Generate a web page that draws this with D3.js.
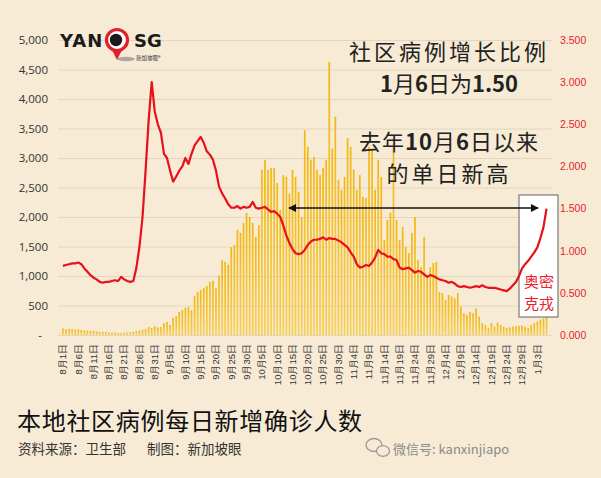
<!DOCTYPE html>
<html>
<head>
<meta charset="utf-8">
<script src="https://cdn.jsdelivr.net/npm/d3@7"></script>
<style>
  body { margin: 0; background: #f7ebd5; }
  svg { display: block; font-family: "Noto Sans CJK SC", "Noto Sans", sans-serif; }
</style>
</head>
<body>
<svg id="chart" width="601" height="478"></svg>
<script>
// daily local community cases, 1 Aug 2021 .. 6 Jan 2022
const startDate = new Date(2021, 7, 1);
const cases = [
  110, 95, 105, 100, 90, 95, 85, 80, 75, 70,
  72, 60, 55, 50, 52, 45, 40, 42, 35, 30,
  38, 40, 50, 55, 65, 80, 90, 100, 135, 120,
  150, 130, 135, 200, 220, 170, 290, 320, 390, 420,
  460, 475, 420, 660, 730, 760, 800, 830, 900, 920,
  790, 1010, 1270, 1240, 1190, 1490, 1525, 1780, 1730, 1900,
  2070, 2000, 1900, 1660, 1860, 2800, 2970, 2800, 2830, 2830,
  2575, 2120, 2710, 2680, 2400, 2800, 2680, 2430, 2000, 3470,
  3190, 2970, 3020, 2800, 2710, 2830, 2970, 4630, 3160, 3700,
  2630, 2460, 2680, 3340, 3190, 2800, 2460, 2710, 2340, 2320,
  3190, 3160, 2460, 2970, 2680, 1610, 1950, 2070, 3250, 1950,
  1610, 1830, 1490, 1390, 1730, 2000, 1270, 1150, 1660, 980,
  1150, 1220, 1240, 730, 710, 590, 680, 650, 620, 710,
  480, 370, 340, 390, 370, 450, 310, 200, 170, 120,
  200, 140, 210, 170, 140, 120, 130, 140, 150, 155,
  160, 140, 120, 170, 200, 230, 260, 280, 370
];
// community case growth ratio
const ratio = [
  0.82, 0.83, 0.84, 0.85, 0.85, 0.86, 0.84, 0.79, 0.75, 0.71,
  0.68, 0.66, 0.63, 0.62, 0.63, 0.63, 0.64, 0.65, 0.64, 0.69,
  0.66, 0.64, 0.63, 0.64, 0.80, 1.05, 1.40, 1.95, 2.55, 3.00,
  2.65, 2.50, 2.40, 2.15, 2.10, 1.95, 1.82, 1.88, 1.95, 2.00,
  2.10, 2.03, 2.15, 2.25, 2.30, 2.35, 2.28, 2.18, 2.14, 2.08,
  1.95, 1.76, 1.68, 1.62, 1.55, 1.51, 1.51, 1.53, 1.50, 1.52,
  1.51, 1.52, 1.58, 1.51, 1.50, 1.51, 1.52, 1.49, 1.46, 1.47,
  1.44, 1.40, 1.30, 1.18, 1.09, 1.02, 0.97, 0.96, 0.97, 1.01,
  1.07, 1.11, 1.13, 1.13, 1.14, 1.16, 1.13, 1.15, 1.14, 1.14,
  1.12, 1.10, 1.07, 1.04, 0.98, 0.93, 0.84, 0.80, 0.81, 0.83,
  0.82, 0.86, 0.92, 1.01, 0.97, 0.96, 0.93, 0.93, 0.90, 0.89,
  0.80, 0.78, 0.79, 0.80, 0.77, 0.74, 0.76, 0.75, 0.72, 0.69,
  0.71, 0.70, 0.68, 0.66, 0.65, 0.64, 0.62, 0.63, 0.61, 0.58,
  0.57, 0.58, 0.57, 0.56, 0.57, 0.58, 0.57, 0.59, 0.57, 0.56,
  0.56, 0.56, 0.55, 0.54, 0.53, 0.52, 0.55, 0.59, 0.63, 0.70,
  0.79, 0.84, 0.88, 0.93, 0.98, 1.04, 1.15, 1.28, 1.50
];
const leftTicks = [0, 500, 1000, 1500, 2000, 2500, 3000, 3500, 4000, 4500, 5000];
const rightTicks = [0, 0.5, 1, 1.5, 2, 2.5, 3, 3.5];
const labelEvery = 5;

const days = d3.timeDay.range(startDate, d3.timeDay.offset(startDate, cases.length));
const fmtDay = d => `${d.getMonth() + 1}月${d.getDate()}日`;

const svg = d3.select('#chart');
const plotTop = 40, plotBottom = 335;

const x = d3.scaleBand().domain(days).range([61.5, 548]).paddingInner(0.45).paddingOuter(0.2);
const yL = d3.scaleLinear().domain([0, 5000]).range([plotBottom, plotTop]);
const yR = d3.scaleLinear().domain([0, 3.5]).range([plotBottom, plotTop]);

svg.append('rect').attr('width', 601).attr('height', 478).attr('fill', '#f7ebd5');

// gradient for bars
const defs = svg.append('defs');
const grad = defs.append('linearGradient').attr('id', 'barGrad')
  .attr('x1', 0).attr('y1', 0).attr('x2', 0).attr('y2', 1);
grad.append('stop').attr('offset', '0%').attr('stop-color', '#f3b60f');
grad.append('stop').attr('offset', '100%').attr('stop-color', '#f7cf55');

// gridlines
svg.append('g')
  .attr('transform', 'translate(58,0)')
  .call(d3.axisRight(yL).tickValues(leftTicks).tickSize(495).tickFormat(''))
  .call(g => g.select('.domain').remove())
  .call(g => g.selectAll('line').attr('stroke', '#e3d6bd').attr('stroke-width', 1));

// left axis
svg.append('g')
  .attr('transform', 'translate(52,0)')
  .call(d3.axisLeft(yL).tickValues(leftTicks).tickSize(0).tickPadding(4)
    .tickFormat(d => d === 0 ? '-' : d3.format(',')(d)))
  .call(g => g.select('.domain').remove())
  .call(g => g.selectAll('text').attr('fill', '#333').attr('font-size', 11.5)
    .attr('font-family', '"Open Sans", "Noto Sans", sans-serif'))
  .call(g => g.selectAll('text').filter(d => d === 0).attr('dx', -6));

// right axis
svg.append('g')
  .attr('transform', 'translate(556,0)')
  .call(d3.axisRight(yR).tickValues(rightTicks).tickSize(0).tickPadding(4).tickFormat(d3.format('.3f')))
  .call(g => g.select('.domain').remove())
  .call(g => g.selectAll('text').attr('fill', '#e8202a').attr('font-size', 10.5)
    .attr('font-family', '"Liberation Sans", sans-serif'));

// bars
svg.append('g')
  .selectAll('rect')
  .data(cases)
  .join('rect')
  .attr('x', (d, i) => x(days[i]))
  .attr('y', d => yL(d))
  .attr('width', x.bandwidth())
  .attr('height', d => plotBottom - yL(d))
  .attr('fill', 'url(#barGrad)');

// x axis labels
svg.append('g')
  .attr('transform', `translate(0,${plotBottom})`)
  .call(d3.axisBottom(x).tickValues(days.filter((d, i) => i % labelEvery === 0)).tickSize(0).tickFormat(fmtDay))
  .call(g => g.select('.domain').remove())
  .call(g => g.selectAll('text')
    .attr('transform', 'rotate(-90)')
    .attr('text-anchor', 'end')
    .attr('x', -9).attr('y', 0).attr('dy', '0.35em')
    .attr('fill', '#333').attr('font-size', 9.5));

// omicron box
svg.append('rect')
  .attr('x', 519).attr('y', 195).attr('width', 39).attr('height', 122)
  .attr('fill', '#ffffff').attr('stroke', '#7a7a7a').attr('stroke-width', 1.2);
svg.append('text').attr('x', 539).attr('y', 287).attr('text-anchor', 'middle')
  .attr('font-size', 15).attr('fill', '#e8202a').text('奥密');
svg.append('text').attr('x', 539).attr('y', 309).attr('text-anchor', 'middle')
  .attr('font-size', 15).attr('fill', '#e8202a').text('克戎');

// ratio line
const line = d3.line()
  .x((d, i) => x(days[i]) + x.bandwidth() / 2)
  .y(d => yR(d));
svg.append('path')
  .datum(ratio)
  .attr('d', line)
  .attr('fill', 'none')
  .attr('stroke', '#e8101a')
  .attr('stroke-width', 2.2)
  .attr('stroke-linejoin', 'round');

// arrow
const arrowY = 208;
defs.append('marker').attr('id', 'ah').attr('viewBox', '0 0 10 10')
  .attr('refX', 9).attr('refY', 5).attr('markerWidth', 5).attr('markerHeight', 5)
  .attr('orient', 'auto-start-reverse')
  .append('path').attr('d', 'M0,0L10,5L0,10z').attr('fill', '#111');
svg.append('line')
  .attr('x1', 289).attr('x2', 538).attr('y1', arrowY).attr('y2', arrowY)
  .attr('stroke', '#111').attr('stroke-width', 1.6)
  .attr('marker-start', 'url(#ah)').attr('marker-end', 'url(#ah)');

// annotation text
const note = svg.append('g').attr('text-anchor', 'middle').attr('fill', '#222');
note.append('text').attr('x', 449).attr('y', 60).attr('font-size', 22).attr('letter-spacing', 3)
  .text('社区病例增长比例');
const t2 = note.append('text').attr('x', 449).attr('y', 92).attr('font-size', 22);
t2.append('tspan').attr('font-weight', 700).text('1');
t2.append('tspan').text('月');
t2.append('tspan').attr('font-weight', 700).text('6');
t2.append('tspan').text('日为');
t2.append('tspan').attr('font-weight', 700).text('1.50');
const t3 = note.append('text').attr('x', 449).attr('y', 150).attr('font-size', 22).attr('letter-spacing', 1);
t3.append('tspan').text('去年');
t3.append('tspan').attr('font-weight', 700).text('10');
t3.append('tspan').text('月');
t3.append('tspan').attr('font-weight', 700).text('6');
t3.append('tspan').text('日以来');
note.append('text').attr('x', 449).attr('y', 182).attr('font-size', 22).attr('letter-spacing', 3)
  .text('的单日新高');

// logo
const logo = svg.append('g');
logo.append('text').attr('x', 60).attr('y', 47).attr('font-size', 18).attr('font-weight', 900)
  .attr('letter-spacing', 1)
  .attr('font-family', '"DejaVu Sans", sans-serif').attr('fill', '#1a1a1a').text('YAN');
logo.append('path').attr('d', 'M112,50 L117,60 L122,50 Z').attr('fill', '#e0202a');
logo.append('circle').attr('cx', 117).attr('cy', 40).attr('r', 10.5)
  .attr('fill', '#fff').attr('stroke', '#e0202a').attr('stroke-width', 3.2);
logo.append('circle').attr('cx', 116).attr('cy', 40).attr('r', 6.2).attr('fill', '#1a1a1a');
logo.append('ellipse').attr('cx', 126).attr('cy', 59).attr('rx', 9).attr('ry', 2.2).attr('fill', '#8a8a8a').attr('opacity', 0.7);
logo.append('text').attr('x', 134).attr('y', 47).attr('font-size', 18).attr('font-weight', 900)
  .attr('font-family', '"DejaVu Sans", sans-serif').attr('fill', '#1a1a1a').text('SG');
logo.append('text').attr('x', 136).attr('y', 60).attr('font-size', 5.5).attr('fill', '#333').text('新加坡眼®');

// title and source
svg.append('text').attr('x', 17).attr('y', 430).attr('font-size', 24).attr('letter-spacing', 0.7)
  .attr('fill', '#111').text('本地社区病例每日新增确诊人数');
svg.append('text').attr('x', 18).attr('y', 454).attr('font-size', 13.5).attr('fill', '#333')
  .text('资料来源：卫生部');
svg.append('text').attr('x', 147).attr('y', 454).attr('font-size', 13.5).attr('fill', '#333')
  .text('制图：新加坡眼');

// wechat watermark
const wm = svg.append('g').attr('fill', 'none').attr('stroke', '#9a9a9a').attr('stroke-width', 1.3);
wm.append('ellipse').attr('cx', 374).attr('cy', 445).attr('rx', 8).attr('ry', 6.5);
wm.append('ellipse').attr('cx', 383).attr('cy', 451).attr('rx', 6.5).attr('ry', 5.3).attr('fill', '#f7ebd5');
svg.append('text').attr('x', 393).attr('y', 454).attr('font-size', 13).attr('fill', '#8a8a8a')
  .text('微信号: kanxinjiapo');
</script>
</body>
</html>
